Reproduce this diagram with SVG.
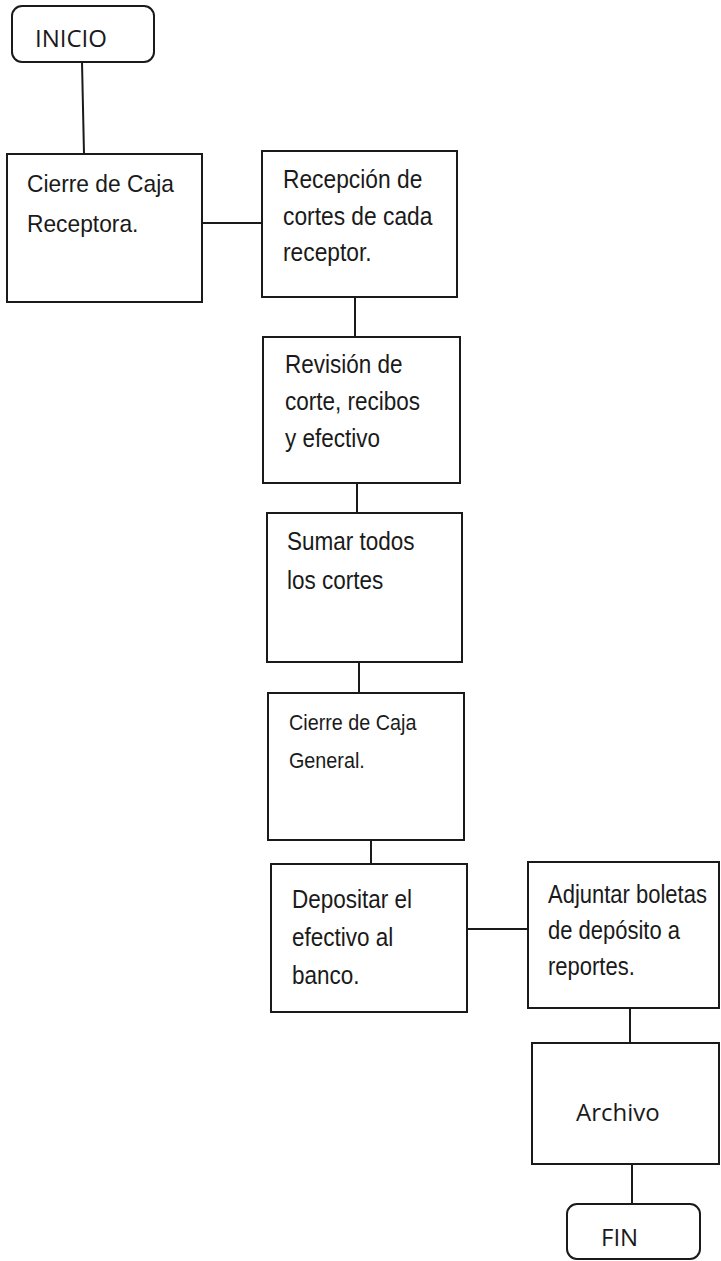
<svg xmlns="http://www.w3.org/2000/svg" width="721" height="1261" viewBox="0 0 721 1261">
<style>
.box{fill:#fff;stroke:#1a1a1a;stroke-width:2}
.con{stroke:#1a1a1a;stroke-width:2;fill:none}
.t{font-family:"Liberation Sans",Arial,sans-serif;font-size:25px;fill:#1a1a1a}
.c{font-family:"Open Sans","Noto Sans",sans-serif;font-size:24px;fill:#1a1a1a}
</style>
<rect width="721" height="1261" fill="#fff"/>
<g id="connectors">
<line class="con" x1="82" y1="62" x2="84" y2="154"/>
<line class="con" x1="202" y1="223" x2="262" y2="223"/>
<line class="con" x1="355" y1="297" x2="355" y2="337"/>
<line class="con" x1="357" y1="483" x2="357" y2="513"/>
<line class="con" x1="359" y1="662" x2="359" y2="693"/>
<line class="con" x1="371" y1="840" x2="371" y2="864"/>
<line class="con" x1="467" y1="929" x2="528" y2="929"/>
<line class="con" x1="630" y1="1008" x2="630" y2="1043"/>
<line class="con" x1="632" y1="1164" x2="632" y2="1204"/>
</g>
<g id="inicio">
<rect class="box" x="12" y="6" width="142" height="56" rx="10"/>
<text class="c" x="35" y="47">INICIO</text>
</g>
<g id="n1">
<rect class="box" x="7" y="154" width="195" height="148"/>
<g transform="translate(27,0) scale(0.95,1)">
<text class="t" x="0" y="192" style="font-size:24px">Cierre de Caja</text>
<text class="t" x="0" y="232" style="font-size:24px">Receptora.</text>
</g>
</g>
<g id="n2">
<rect class="box" x="262" y="151" width="195" height="146"/>
<g transform="translate(283,0) scale(0.86,1)">
<text class="t" x="0" y="188" style="font-size:26.5px">Recepción de</text>
<text class="t" x="0" y="225" style="font-size:26.5px">cortes de cada</text>
<text class="t" x="0" y="261" style="font-size:26.5px">receptor.</text>
</g>
</g>
<g id="n3">
<rect class="box" x="263" y="337" width="197" height="146"/>
<g transform="translate(285,0) scale(0.9,1)">
<text class="t" x="0" y="373">Revisión de</text>
<text class="t" x="0" y="410">corte, recibos</text>
<text class="t" x="0" y="447">y efectivo</text>
</g>
</g>
<g id="n4">
<rect class="box" x="267" y="513" width="195" height="149"/>
<g transform="translate(287,0) scale(0.9,1)">
<text class="t" x="0" y="550">Sumar todos</text>
<text class="t" x="0" y="589">los cortes</text>
</g>
</g>
<g id="n5">
<rect class="box" x="268" y="693" width="196" height="147"/>
<g transform="translate(289,0) scale(0.92,1)">
<text class="t" x="0" y="730" style="font-size:21.5px">Cierre de Caja</text>
<text class="t" x="0" y="768" style="font-size:21.5px">General.</text>
</g>
</g>
<g id="n6">
<rect class="box" x="271" y="864" width="196" height="148"/>
<g transform="translate(292,0) scale(0.9,1)">
<text class="t" x="0" y="908">Depositar el</text>
<text class="t" x="0" y="946">efectivo al</text>
<text class="t" x="0" y="984">banco.</text>
</g>
</g>
<g id="n7">
<rect class="box" x="528" y="862" width="191" height="146"/>
<g transform="translate(548,0) scale(0.88,1)">
<text class="t" x="0" y="903">Adjuntar boletas</text>
<text class="t" x="0" y="939">de depósito a</text>
<text class="t" x="0" y="975">reportes.</text>
</g>
</g>
<g id="n8">
<rect class="box" x="532" y="1043" width="187" height="121"/>
<text class="c" x="576" y="1121">Archivo</text>
</g>
<g id="fin">
<rect class="box" x="567" y="1204" width="133" height="55" rx="10"/>
<text class="c" x="601" y="1246">FIN</text>
</g>
</svg>
